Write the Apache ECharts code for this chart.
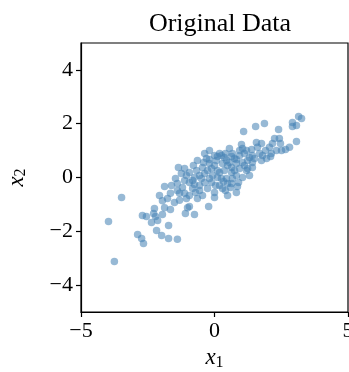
<!DOCTYPE html>
<html><head><meta charset="utf-8">
<script src="https://cdn.jsdelivr.net/npm/echarts@6/dist/echarts.min.js"></script>
<style>html,body{margin:0;padding:0;background:#fff}#c{width:349px;height:372px}</style>
</head><body><div id="c"></div>
<script>
const titleText = "Original Data";
const xTicks = [-5, 0, 5];
const yTicks = [-4, -2, 0, 2, 4];
const x1 = [1.09,1.54,1.87,2.40,2.92,3.15,3.26,3.07,2.92,3.07,2.81,2.66,2.51,2.32,2.13,2.10,1.57,1.76,1.01,1.05,1.39,1.20,2.25,2.43,2.17,2.47,1.69,1.80,1.42,1.31,1.12,0.94,0.82,0.67,0.64,1.76,1.95,1.42,1.24,1.24,1.42,0.94,1.20,1.31,1.05,0.90,0.82,0.60,
0.19,0.11,0.26,0.00,-0.37,-0.30,0.37,0.45,0.75,0.82,-0.19,0.00,0.30,0.56,0.64,-0.45,-0.26,0.19,0.37,0.64,0.82,0.45,0.11,-0.07,-0.37,-0.49,0.67,-0.19,0.11,0.49,-0.11,0.19,0.49,0.30,-0.56,-0.75,-1.20,-0.26,0.00,-0.45,0.00,-0.22,0.41,0.64,
-1.35,-1.24,-0.94,-0.67,-1.05,-0.75,-1.12,-1.39,-0.94,-1.61,-1.76,-1.50,-1.87,-1.65,-2.25,-2.28,-2.21,-2.36,-2.13,-1.72,-2.17,-1.98,-1.72,-1.39,-1.09,-0.94,-0.75,-1.31,-1.05,-1.12,-0.94,-0.56,-1.39,-0.82,-0.64,-1.31,
-3.48,-3.97,-3.75,-2.88,-2.73,-2.66,-2.70,-2.55,
-0.64,-0.11,0.26,0.94,1.61,1.12,0.75,0.41,0.07,-0.56,-0.82,-0.37,-0.19,0.86,0.49,-1.46,-1.87,-2.06,-1.95,2.06,1.91,1.50,1.05,0.56,-0.19,-0.79,-1.12,-0.41,0.34,0.04,-0.71,-1.65,-1.01,-1.95];
const x2 = [1.71,1.90,2.01,1.78,2.04,2.27,2.19,1.93,1.90,1.34,1.12,1.04,1.00,1.00,0.89,0.78,1.30,1.26,1.23,1.08,1.04,1.00,1.45,1.45,1.26,1.26,0.89,0.82,0.82,0.74,0.89,0.82,0.67,0.89,0.78,0.63,0.71,0.56,0.63,0.33,0.37,0.33,0.26,0.07,0.00,-0.19,-0.56,-0.37,
0.89,0.78,0.82,0.82,0.89,0.71,0.74,0.63,0.71,0.52,0.52,0.45,0.52,0.56,0.37,0.37,0.26,0.19,0.26,0.19,0.07,-0.04,0.00,0.07,0.15,-0.04,-0.04,0.67,0.26,0.45,-0.19,-0.30,-0.22,-0.41,-0.30,-0.26,-0.37,-0.41,-0.56,-0.67,-0.74,-1.08,-0.48,-0.22,
0.37,0.15,0.19,0.26,0.07,0.00,-0.11,-0.22,-0.19,-0.30,-0.78,-0.93,-1.12,-1.19,-1.15,-1.34,-1.45,-1.67,-1.60,-1.78,-1.97,-2.16,-2.27,-2.30,-1.34,-1.08,-1.38,-0.59,-0.78,-0.59,-0.67,-0.48,-0.48,-0.41,-0.78,-0.85,
-0.74,-1.64,-3.12,-2.12,-2.27,-2.45,-1.41,-1.45,
0.63,0.33,-0.04,1.00,1.12,0.45,0.26,0.89,0.63,0.07,-0.11,-0.19,-0.04,-0.33,-0.67,-0.04,-0.33,-0.67,-0.86,1.12,1.00,0.71,0.56,1.08,1.00,0.45,0.33,0.56,-0.15,-0.30,-0.56,-0.59,-1.12,-1.38];

const pts = x1.map((v, i) => [v, x2[i]]);
const FONT = "Liberation Serif";
const minus = v => String(v).replace('-', '\u2212');

const chart = echarts.init(document.getElementById('c'), null, {renderer: 'canvas'});
chart.setOption({
  animation: false,
  backgroundColor: '#fff',
  title: {
    text: titleText, left: 215, top: 6, textAlign: 'center',
    textStyle: {fontFamily: FONT, fontSize: 26, fontWeight: 'normal', color: '#000'}
  },
  grid: {left: 81, top: 43, right: 1, bottom: 60, containLabel: false, outerBoundsMode: 'none', show: true, borderColor: '#000', borderWidth: 1.2, backgroundColor: 'transparent'},
  xAxis: {
    type: 'value', min: -5, max: 5,
    name: '{i|x}{s|1}', nameLocation: 'middle', nameGap: 34,
    nameTextStyle: {rich: {i: {fontFamily: FONT, fontStyle: 'italic', fontSize: 23, color: '#000'}, s: {fontFamily: FONT, fontSize: 16, color: '#000', verticalAlign: 'bottom', padding: [8, 0, 0, 0]}}},
    axisLine: {show: true, onZero: false, lineStyle: {color: '#000', width: 1.2}},
    axisTick: {show: true, length: 5, inside: false, customValues: xTicks, lineStyle: {color: '#000', width: 1.2}},
    axisLabel: {customValues: xTicks, formatter: minus, fontFamily: FONT, fontSize: 22, color: '#000', margin: 8, showMaxLabel: true, showMinLabel: true, hideOverlap: false},
    splitLine: {show: false}
  },
  yAxis: {
    type: 'value', min: -5, max: 5,
    name: '{i|x}{s|2}', nameLocation: 'middle', nameGap: 52, nameRotate: 90,
    nameTextStyle: {rich: {i: {fontFamily: FONT, fontStyle: 'italic', fontSize: 23, color: '#000'}, s: {fontFamily: FONT, fontSize: 16, color: '#000', verticalAlign: 'bottom', padding: [8, 0, 0, 0]}}},
    axisLine: {show: true, onZero: false, lineStyle: {color: '#000', width: 1.2}},
    axisTick: {show: true, length: 5, inside: false, customValues: yTicks, lineStyle: {color: '#000', width: 1.2}},
    axisLabel: {customValues: yTicks, formatter: minus, fontFamily: FONT, fontSize: 22, color: '#000', margin: 8},
    splitLine: {show: false}
  },
  series: [{
    type: 'scatter', data: pts, symbolSize: 7.5,
    itemStyle: {color: 'rgba(70,130,180,0.7)', borderWidth: 0}
  }]
});
</script></body></html>
